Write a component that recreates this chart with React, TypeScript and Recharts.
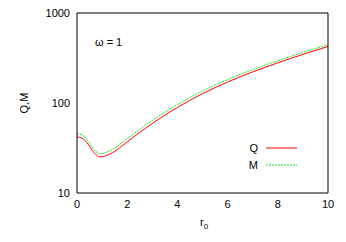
import { Line, LineChart, XAxis, YAxis } from "recharts";

const r0 = [
  0, 0.2, 0.4, 0.6, 0.75, 0.9, 1, 1.2, 1.4, 1.6, 1.8, 2, 2.5, 3, 3.5, 4, 4.5,
  5, 5.5, 6, 6.5, 7, 7.5, 8, 8.5, 9, 9.5, 10,
];
const qValues = [
  42, 40.6, 36.2, 29.8, 26.7, 25.3, 25.3, 26.3, 28, 30.3, 33.5, 37, 47.2, 59.3,
  73.3, 89.3, 107.2, 126.8, 148, 171, 195.4, 221.5, 249.4, 279.5, 311.8, 346.6,
  384, 424.6,
];
const mValues = [
  45.5, 44, 39.3, 32.3, 29, 27.5, 27.5, 28.6, 30.4, 32.9, 36.3, 40, 51, 64, 79,
  96, 115, 135.5, 158, 182, 207.5, 235, 264, 295, 328, 364, 402, 444,
];
const xTicks = [0, 2, 4, 6, 8, 10];
const yTicks = [10, 100, 1000];
const yMinorTicks = [
  20, 30, 40, 50, 60, 70, 80, 90, 200, 300, 400, 500, 600, 700, 800, 900,
];

const data = r0.map((r, i) => ({ r, q: qValues[i], m: mValues[i] }));

const font = "'Liberation Sans', Arial, sans-serif";
const tickStyle = { fontSize: 11, fill: "#000", fontFamily: font };

export default function App() {
  return (
    <div
      style={{
        position: "absolute",
        left: 0,
        top: 0,
        width: 346,
        height: 242,
        background: "#fff",
      }}
    >
      <LineChart
        width={346}
        height={242}
        data={data}
        margin={{ top: 13, right: 18, bottom: 0, left: 0 }}
      >
        <XAxis
          xAxisId="b"
          dataKey="r"
          type="number"
          domain={[0, 10]}
          ticks={xTicks}
          height={49}
          tickLine={false}
          tickSize={0}
          tickMargin={7}
          axisLine={{ stroke: "#000" }}
          tick={tickStyle}
        />
        <XAxis
          xAxisId="bm"
          orientation="bottom"
          type="number"
          domain={[0, 10]}
          ticks={xTicks}
          mirror
          tick={false}
          tickSize={5}
          axisLine={false}
          tickLine={{ stroke: "#000" }}
        />
        <XAxis
          xAxisId="t"
          orientation="top"
          type="number"
          domain={[0, 10]}
          ticks={xTicks}
          mirror
          tick={false}
          tickSize={5}
          axisLine={{ stroke: "#000" }}
          tickLine={{ stroke: "#000" }}
        />
        <YAxis
          yAxisId="l"
          type="number"
          scale="log"
          domain={[10, 1000]}
          allowDataOverflow
          ticks={yTicks}
          width={77}
          tickLine={false}
          tickSize={0}
          tickMargin={7}
          axisLine={{ stroke: "#000" }}
          tick={tickStyle}
        />
        <YAxis
          yAxisId="lm"
          type="number"
          scale="log"
          domain={[10, 1000]}
          allowDataOverflow
          ticks={yTicks}
          mirror
          tick={false}
          tickSize={5}
          axisLine={false}
          tickLine={{ stroke: "#000" }}
        />
        <YAxis
          yAxisId="lmm"
          type="number"
          scale="log"
          domain={[10, 1000]}
          allowDataOverflow
          ticks={yMinorTicks}
          mirror
          tick={false}
          tickSize={3}
          axisLine={false}
          tickLine={{ stroke: "#000" }}
        />
        <YAxis
          yAxisId="r"
          orientation="right"
          type="number"
          scale="log"
          domain={[10, 1000]}
          allowDataOverflow
          ticks={yTicks}
          mirror
          tick={false}
          tickSize={5}
          axisLine={{ stroke: "#000" }}
          tickLine={{ stroke: "#000" }}
        />
        <YAxis
          yAxisId="rm"
          orientation="right"
          type="number"
          scale="log"
          domain={[10, 1000]}
          allowDataOverflow
          ticks={yMinorTicks}
          mirror
          tick={false}
          tickSize={3}
          axisLine={false}
          tickLine={{ stroke: "#000" }}
        />
        <Line
          xAxisId="b"
          yAxisId="l"
          type="monotone"
          dataKey="m"
          stroke="#22dd22"
          strokeWidth={1}
          strokeDasharray="2 1"
          dot={false}
          isAnimationActive={false}
        />
        <Line
          xAxisId="b"
          yAxisId="l"
          type="monotone"
          dataKey="q"
          stroke="#ff0000"
          strokeWidth={1}
          dot={false}
          isAnimationActive={false}
        />
      </LineChart>
      <svg
        width={346}
        height={242}
        style={{ position: "absolute", left: 0, top: 0, pointerEvents: "none" }}
        fontFamily={font}
        fontSize={11}
      >
        <text
          x={24}
          y={103}
          textAnchor="middle"
          dominantBaseline="central"
          transform="rotate(-90 24 103)"
        >
          Q,M
        </text>
        <text x={95} y={46}>
          ω = 1
        </text>
        <text x={200} y={226}>
          r
          <tspan fontSize={8} dy={3}>
            0
          </tspan>
        </text>
        <text x={258} y={152} textAnchor="end">
          Q
        </text>
        <line x1={266} x2={297} y1={148} y2={148} stroke="#ff0000" strokeWidth={1} />
        <text x={258} y={169} textAnchor="end">
          M
        </text>
        <line
          x1={266}
          x2={297}
          y1={165}
          y2={165}
          stroke="#22dd22"
          strokeWidth={1}
          strokeDasharray="2 1"
        />
      </svg>
    </div>
  );
}
